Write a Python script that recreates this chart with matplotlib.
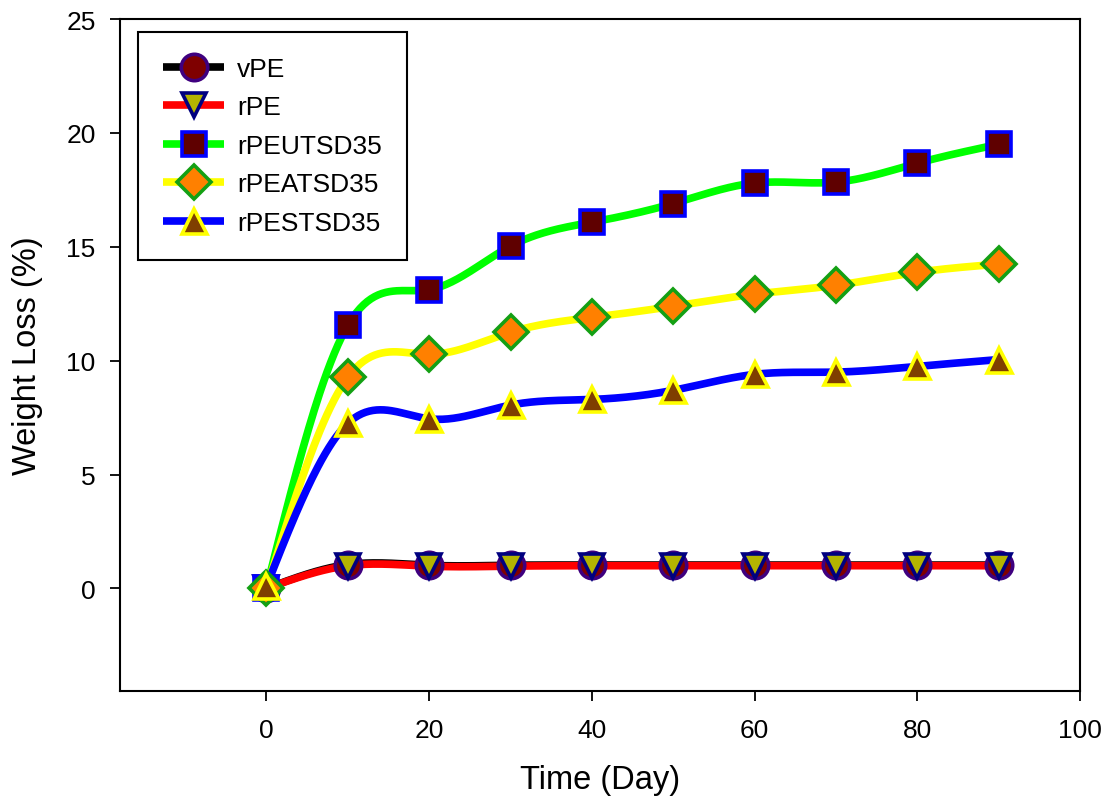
import numpy as np
import matplotlib
matplotlib.use("Agg")
import matplotlib.pyplot as plt
from matplotlib.lines import Line2D

# Sampling days and measured weight loss (%) for each formulation
days = [0, 10, 20, 30, 40, 50, 60, 70, 80, 90]
vPE = [0, 1.05, 1.02, 1.02, 1.03, 1.03, 1.03, 1.03, 1.03, 1.03]
rPE = [0, 1.0, 0.98, 0.98, 1.0, 1.0, 1.0, 1.0, 1.0, 1.0]
rPEUTSD35 = [0, 11.55, 13.12, 15.03, 16.08, 16.9, 17.8, 17.84, 18.67, 19.5]
rPEATSD35 = [0, 9.27, 10.28, 11.25, 11.9, 12.39, 12.92, 13.31, 13.88, 14.24]
rPESTSD35 = [0.1, 7.25, 7.45, 8.05, 8.3, 8.7, 9.4, 9.5, 9.75, 10.05]

labels = ["vPE", "rPE", "rPEUTSD35", "rPEATSD35", "rPESTSD35"]
series = [vPE, rPE, rPEUTSD35, rPEATSD35, rPESTSD35]

line_colors = ["#000000", "#ff0000", "#00ff00", "#ffff00", "#0000ff"]
markers = ["o", "v", "s", "D", "^"]
marker_sizes = [19, 17, 17, 17.5, 18]
face_colors = ["#7f0000", "#b4b400", "#5f0000", "#ff8000", "#7f3f00"]
edge_colors = ["#3f007f", "#00007f", "#0000ff", "#14a014", "#ffff00"]


def natural_spline(x, y, n=400):
    """Natural cubic spline through (x, y), evaluated on a dense grid."""
    x = np.asarray(x, float)
    y = np.asarray(y, float)
    k = len(x)
    h = np.diff(x)
    A = np.zeros((k, k))
    r = np.zeros(k)
    A[0, 0] = A[-1, -1] = 1.0
    for i in range(1, k - 1):
        A[i, i - 1] = h[i - 1]
        A[i, i] = 2 * (h[i - 1] + h[i])
        A[i, i + 1] = h[i]
        r[i] = 3 * ((y[i + 1] - y[i]) / h[i] - (y[i] - y[i - 1]) / h[i - 1])
    c = np.linalg.solve(A, r)
    b = (np.diff(y) / h) - h * (2 * c[:-1] + c[1:]) / 3
    d = np.diff(c) / (3 * h)
    xs = np.linspace(x[0], x[-1], n)
    idx = np.clip(np.searchsorted(x, xs, side="right") - 1, 0, k - 2)
    t = xs - x[idx]
    ys = y[idx] + b[idx] * t + c[idx] * t ** 2 + d[idx] * t ** 3
    return xs, ys


plt.rcParams["font.family"] = ["Liberation Sans", "DejaVu Sans"]

fig = plt.figure(figsize=(11.05, 8.04), dpi=100)
ax = fig.add_axes([0.1086, 0.1393, 0.8688, 0.8358])

handles = []
for vals, lab, lc, mk, ms, fc, ec in zip(series, labels, line_colors, markers,
                                         marker_sizes, face_colors, edge_colors):
    xs, ys = natural_spline(days, vals)
    ax.plot(xs, ys, color=lc, lw=5.5, solid_capstyle="butt", zorder=2)
    ax.plot(days, vals, linestyle="none", marker=mk, markersize=ms,
            markerfacecolor=fc, markeredgecolor=ec, markeredgewidth=2.6, zorder=3)
    handles.append(Line2D([0], [0], color=lc, lw=5.5, marker=mk, markersize=ms,
                          markerfacecolor=fc, markeredgecolor=ec,
                          markeredgewidth=2.6, solid_capstyle="butt"))

ax.set_xlim(-18, 100)
ax.set_ylim(-4.5, 25)
ax.set_xticks([0, 20, 40, 60, 80, 100])
ax.set_yticks([0, 5, 10, 15, 20, 25])

for s in ax.spines.values():
    s.set_linewidth(1.5)
ax.tick_params(direction="out", length=7.5, width=1.3, labelsize=19,
               top=False, right=False)
ax.tick_params(axis="x", pad=12)
ax.tick_params(axis="y", pad=10)

ax.set_xlabel("Time (Day)", fontsize=23.5, labelpad=16)
ax.set_ylabel("Weight Loss (%)", fontsize=23.5, labelpad=17)

leg = ax.legend(handles, labels, loc="upper left", bbox_to_anchor=(0.019, 0.981),
                borderaxespad=0, fontsize=19, handlelength=2.3, handletextpad=0.5,
                labelspacing=0.55, borderpad=0.95, fancybox=False, framealpha=1,
                edgecolor="black")
leg.get_frame().set_linewidth(1.5)

fig.savefig("out.png", dpi=100)
